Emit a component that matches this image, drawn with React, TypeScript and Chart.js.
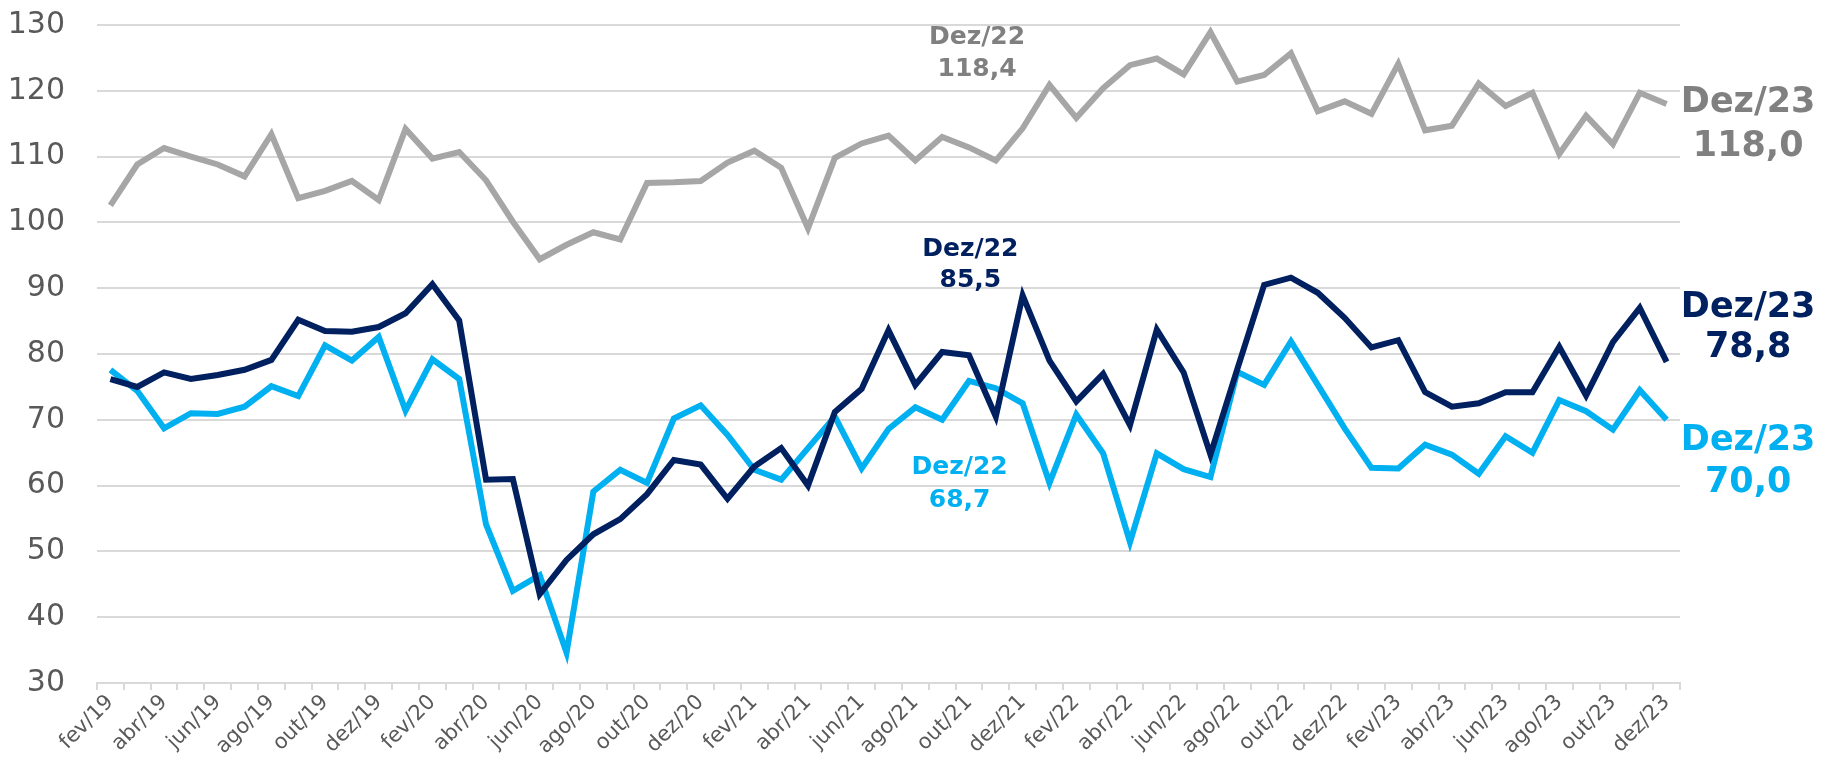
import React, { useEffect, useRef } from "react";
import { Chart, registerables } from "chart.js";

Chart.register(...registerables);

const months = ["jan", "fev", "mar", "abr", "mai", "jun", "jul", "ago", "set", "out", "nov", "dez"];
const categories: string[] = [];
for (let y = 19; y <= 23; y++) {
  for (let m = 0; m < 12; m++) {
    if (y === 19 && m === 0) continue;
    categories.push(`${months[m]}/${y}`);
  }
}

const grayValues = [
  102.6, 108.8, 111.3, 110.0, 108.8, 107.0, 113.4, 103.7, 104.8, 106.3,
  103.4, 114.2, 109.7, 110.7, 106.4, 100.1, 94.4, 96.6, 98.5, 97.4,
  106.0, 106.1, 106.3, 109.1, 110.9, 108.3, 99.1, 109.8, 112.0, 113.2,
  109.4, 113.0, 111.4, 109.4, 114.3, 120.9, 115.9, 120.4, 123.9, 124.9,
  122.5, 128.9, 121.4, 122.4, 125.7, 116.9, 118.4, 116.5, 124.1, 114.0,
  114.7, 121.1, 117.7, 119.7, 110.4, 116.2, 111.9, 119.7, 118.0,
];

const navyValues = [
  76.2, 75.0, 77.2, 76.2, 76.8, 77.6, 79.1, 85.2, 83.5, 83.4,
  84.1, 86.2, 90.6, 85.1, 60.9, 61.0, 43.5, 48.7, 52.6, 54.9,
  58.7, 63.9, 63.2, 58.0, 62.9, 65.7, 60.0, 71.2, 74.7, 83.6,
  75.3, 80.3, 79.8, 70.5, 88.9, 79.0, 72.8, 77.0, 69.2, 83.7,
  77.2, 64.7, 77.7, 90.5, 91.6, 89.3, 85.5, 81.0, 82.1, 74.2,
  72.0, 72.5, 74.2, 74.2, 81.1, 73.7, 81.8, 87.0, 78.8,
];

const lightValues = [
  77.6, 74.4, 68.7, 71.0, 70.9, 72.0, 75.1, 73.6, 81.3, 79.0,
  82.6, 71.4, 79.2, 76.2, 54.1, 44.0, 46.4, 34.6, 59.1, 62.4,
  60.4, 70.2, 72.2, 67.7, 62.4, 60.9, 65.7, 70.5, 62.6, 68.6,
  71.9, 70.0, 75.9, 74.8, 72.5, 60.4, 70.8, 64.9, 51.4, 64.9,
  62.5, 61.3, 77.3, 75.3, 81.9, 75.3, 68.7, 62.7, 62.6, 66.2,
  64.7, 61.8, 67.5, 65.0, 73.0, 71.3, 68.5, 74.5, 70.0,
];

const yTicks = { min: 30, max: 130, step: 10 };

const GRAY_LINE = "#a6a6a6";
const GRAY_TEXT = "#808080";
const NAVY = "#002060";
const LIGHT = "#00b0f0";
const FONT = "'DejaVu Sans', sans-serif";

// annotation texts: [text, xIndex(decimal), yValue, color, size]
const annotations: [string, number, number, string, number][] = [
  ["Dez/22", 32.3, 128.1, GRAY_TEXT, 25],
  ["118,4", 32.3, 123.2, GRAY_TEXT, 25],
  ["Dez/22", 32.05, 95.9, NAVY, 25],
  ["85,5", 32.05, 91.1, NAVY, 25],
  ["Dez/22", 31.65, 62.8, LIGHT, 25],
  ["68,7", 31.65, 57.8, LIGHT, 25],
  ["Dez/23", 61.04, 118.1, GRAY_TEXT, 35],
  ["118,0", 61.04, 111.5, GRAY_TEXT, 35],
  ["Dez/23", 61.04, 87.0, NAVY, 35],
  ["78,8", 61.04, 80.9, NAVY, 35],
  ["Dez/23", 61.04, 66.8, LIGHT, 35],
  ["70,0", 61.04, 60.4, LIGHT, 35],
];

const annotationPlugin = {
  id: "annot",
  afterDatasetsDraw(chart: any) {
    const { ctx, scales } = chart;
    const xs = scales.x;
    const ys = scales.y;
    ctx.save();
    ctx.textAlign = "center";
    ctx.textBaseline = "middle";
    for (const [text, xi, yv, color, size] of annotations) {
      ctx.fillStyle = color;
      ctx.font = `bold ${size}px ${FONT}`;
      ctx.fillText(text, xs.getPixelForValue(xi), ys.getPixelForValue(yv));
    }
    ctx.restore();
  },
};

export default function App() {
  const canvasRef = useRef<HTMLCanvasElement | null>(null);

  useEffect(() => {
    document.body.style.margin = "0";
    const canvas = canvasRef.current;
    if (!canvas) return;
    const chart = new Chart(canvas, {
      type: "line",
      data: {
        labels: categories,
        datasets: [
          { label: "navy", data: navyValues, borderColor: NAVY, backgroundColor: NAVY },
          { label: "light", data: lightValues, borderColor: LIGHT, backgroundColor: LIGHT },
          { label: "gray", data: grayValues, borderColor: GRAY_LINE, backgroundColor: GRAY_LINE },
        ],
      },
      options: {
        responsive: false,
        animation: false,
        devicePixelRatio: 1,
        layout: { padding: { top: 25, right: 147, bottom: 0, left: 0 } },
        elements: {
          point: { radius: 0, hoverRadius: 0 },
          line: { tension: 0, borderWidth: 6, borderJoinStyle: "miter", borderCapStyle: "butt" },
        },
        plugins: { legend: { display: false }, tooltip: { enabled: false } },
        scales: {
          x: {
            type: "category",
            offset: true,
            grid: {
              offset: true,
              drawOnChartArea: false,
              drawTicks: true,
              tickLength: 7,
              color: "#d9d9d9",
              lineWidth: 2,
            },
            border: { display: true, color: "#d9d9d9", width: 2 },
            ticks: {
              autoSkip: false,
              maxRotation: 45,
              minRotation: 45,
              padding: 0,
              color: "#595959",
              font: { size: 21, family: FONT },
              callback: (_v: any, i: number) => (i % 2 === 0 ? categories[i] : ""),
            },
            afterFit: (scale: any) => {
              scale.height = 79;
              scale.paddingLeft = 0;
              scale.paddingRight = 0;
            },
          },
          y: {
            min: yTicks.min,
            max: yTicks.max,
            ticks: {
              stepSize: yTicks.step,
              padding: 32,
              color: "#595959",
              font: { size: 30, family: FONT },
            },
            grid: { color: "#d9d9d9", lineWidth: 2, drawTicks: false },
            border: { display: false },
            afterFit: (scale: any) => {
              scale.width = 97;
              scale.paddingTop = 0;
              scale.paddingBottom = 0;
            },
          },
        },
      },
      plugins: [annotationPlugin],
    });
    return () => chart.destroy();
  }, []);

  return (
    <div style={{ width: 1827, height: 762, position: "relative" }}>
      <canvas ref={canvasRef} width={1827} height={762} />
    </div>
  );
}
